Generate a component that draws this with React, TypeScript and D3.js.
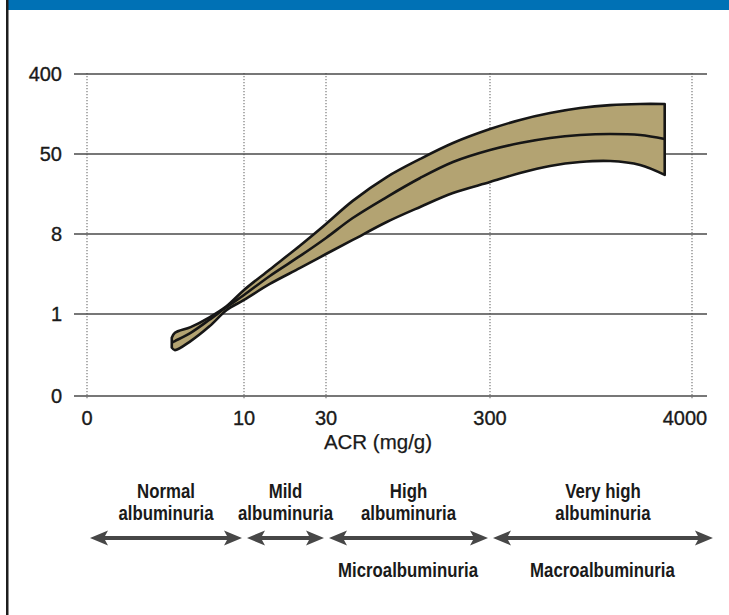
import React from 'react';
import * as d3 from 'd3';

// ACR (mg/g) along the band, with upper / middle / lower values
const acr = [5.4, 5.6, 6.6, 7.8, 8.9, 10, 16.3, 23.7, 30, 74, 130, 185, 239, 300, 850, 1400, 1950, 2500, 3050, 3500];
const upper = [0.71, 0.77, 0.84, 0.96, 1.7, 3.1, 4.9, 7.0, 13.3, 25.4, 37.9, 47.4, 98, 159, 199, 229, 251, 264, 269, 269];
const middle = [0.65, 0.67, 0.77, 0.93, 1.61, 2.66, 4.33, 6.08, 7.65, 16.4, 27.4, 37.4, 45.8, 67.5, 98, 120, 133, 137.5, 133, 116];
const lower = [0.59, 0.56, 0.67, 0.85, 1.35, 2.23, 3.63, 5.03, 6.25, 7.48, 14.3, 22.2, 29.5, 35.3, 40.0, 43.7, 45.8, 46.3, 44.2, 39.0];

const xTicks = [0, 10, 30, 300, 4000];
const yTicks = [0, 1, 8, 50, 400];

// albuminuria categories (ACR ranges)
const catNames = [['Normal', 'albuminuria'], ['Mild', 'albuminuria'], ['High', 'albuminuria'], ['Very high', 'albuminuria']];
const catFrom = [0, 10, 30, 300];
const catTo = [10, 30, 300, 4420];
const groupNames = ['Microalbuminuria', 'Macroalbuminuria'];
const groupCat = [2, 3];

const W = 729, H = 615;

export default function App() {
  const x = d3.scaleLinear().domain(xTicks).range([87, 244, 326, 490, 692]);
  const y = d3.scaleLinear().domain(yTicks).range([396, 314, 234, 154, 74]);

  const pts = acr.map((a, i) => ({ a, u: upper[i], m: middle[i], l: lower[i] }));

  const area = d3.area<any>()
    .x(d => x(d.a))
    .y0(d => y(d.l))
    .y1(d => y(d.u))
    .curve(d3.curveCatmullRom);

  const line = d3.line<any>()
    .x(d => x(d.a))
    .y(d => y(d.m))
    .curve(d3.curveCatmullRom);

  const gridX0 = 74, gridX1 = 707;
  const arrowY = 538;
  const font = 'Liberation Sans, Arial, sans-serif';

  const arrow = (x0: number, x1: number) => {
    const hl = 18, hh = 7.5, t = 2;
    return `M${x0},${arrowY} L${x0 + hl},${arrowY - hh} L${x0 + hl - 3},${arrowY - t} L${x1 - hl + 3},${arrowY - t} L${x1 - hl},${arrowY - hh} L${x1},${arrowY} L${x1 - hl},${arrowY + hh} L${x1 - hl + 3},${arrowY + t} L${x0 + hl - 3},${arrowY + t} L${x0 + hl},${arrowY + hh} Z`;
  };

  const condensed = (cx: number, cy: number, txt: string, key: string) => (
    <text key={key} transform={`translate(${cx},${cy}) scale(0.82,1)`} textAnchor="middle"
      fontFamily={font} fontWeight="bold" fontSize={20.5} fill="#1a1a1a">{txt}</text>
  );

  return (
    <svg width={W} height={H} style={{ position: 'absolute', left: 0, top: 0, background: '#fff' }}>
      {/* header bar and left frame */}
      <rect x={6} y={0} width={W - 6} height={10} fill="#0071b5" />
      <rect x={6} y={0} width={2.5} height={H} fill="#1e1e1e" />

      {/* vertical dotted grid */}
      {xTicks.map(t => (
        <line key={'vx' + t} x1={x(t)} x2={x(t)} y1={y(400) - 1} y2={y(0) + 4}
          stroke="#7a7a7a" strokeWidth={1.2} strokeDasharray="1.2,1.8" />
      ))}
      {/* horizontal grid */}
      {yTicks.map(t => (
        <line key={'hy' + t} x1={gridX0} x2={gridX1} y1={y(t)} y2={y(t)}
          stroke="#4a4a4a" strokeWidth={1.7} />
      ))}

      {/* band */}
      <path d={area(pts) || ''} fill="#b3a372" stroke="#161616" strokeWidth={2.6} strokeLinejoin="round" />
      <path d={line(pts) || ''} fill="none" stroke="#161616" strokeWidth={2.6} />

      {/* y tick labels */}
      {yTicks.map(t => (
        <text key={'yl' + t} x={62} y={y(t)} dy="0.36em" textAnchor="end"
          fontFamily={font} fontSize={20} fill="#1a1a1a" stroke="#1a1a1a" strokeWidth={0.35}>{t}</text>
      ))}
      {/* x tick labels */}
      {xTicks.map(t => (
        <text key={'xl' + t} x={t === 4000 ? x(t) - 7 : x(t)} y={425} textAnchor="middle"
          fontFamily={font} fontSize={20} fill="#1a1a1a" stroke="#1a1a1a" strokeWidth={0.35}>{t}</text>
      ))}
      <text x={378} y={449} textAnchor="middle" fontFamily={font}
        fontSize={20.5} fill="#1a1a1a" stroke="#1a1a1a" strokeWidth={0.25}>ACR (mg/g)</text>

      {/* categories */}
      {catNames.map((n, i) => {
        const a = x(catFrom[i]) + 3, b = x(catTo[i]) - 2;
        const cx = (a + b) / 2;
        return (
          <g key={'cat' + i}>
            {condensed(cx, 498, n[0], 'n0')}
            {condensed(cx, 520, n[1], 'n1')}
            <path d={arrow(a, b)} fill="#474747" />
          </g>
        );
      })}
      {groupNames.map((g, i) => {
        const c = groupCat[i];
        const cx = (x(catFrom[c]) + x(catTo[c])) / 2;
        return condensed(cx, 577, g, 'grp' + i);
      })}
    </svg>
  );
}
